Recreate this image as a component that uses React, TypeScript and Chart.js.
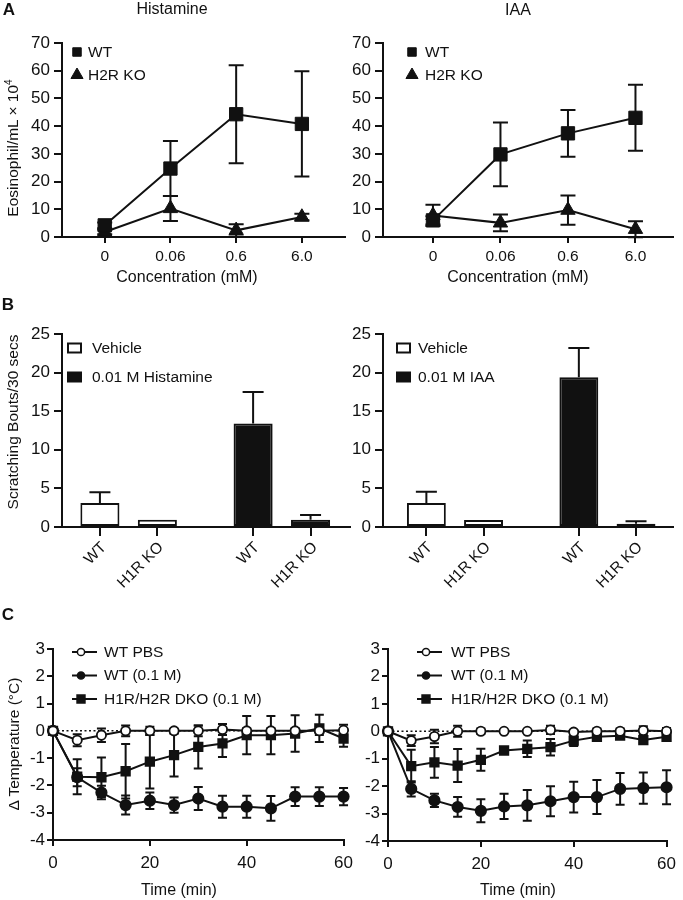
import React, { useEffect, useRef } from 'react';
import { Chart, registerables } from 'chart.js';

Chart.register(...registerables);

const FONT = "'Liberation Sans', Arial, Helvetica, sans-serif";
const INK = '#111111';
const TICK_SIZE = 15.5;
const Y_TICK_SIZE = 17;
const TITLE_SIZE = 16;
const LEGEND_SIZE = 15.5;

// ---------- Panel A: eosinophil counts ----------
const concLabels = ['0', '0.06', '0.6', '6.0'];
const eosSeries = ['WT', 'H2R KO'];
const histamineWT = [4.2, 24.7, 44.3, 40.8];
const histamineWTErr = [1.0, 9.9, 17.7, 19.0];
const histamineKO = [1.8, 10.3, 2.4, 7.2];
const histamineKOErr = [0.8, 4.5, 2.2, 1.2];
const iaaWT = [6.0, 29.8, 37.4, 43.0];
const iaaWTErr = [1.5, 11.5, 8.4, 11.9];
const iaaKO = [7.8, 5.1, 9.7, 2.8];
const iaaKOErr = [3.8, 3.0, 5.3, 2.9];

// ---------- Panel B: scratching bouts ----------
const genotypes = ['WT', 'H1R KO'];
const histTreatments = ['Vehicle', '0.01 M Histamine'];
const iaaTreatments = ['Vehicle', '0.01 M IAA'];
const scratchHistWT = [3.1, 13.4];
const scratchHistWTErr = [1.4, 4.1];
const scratchHistKO = [0.95, 0.95];
const scratchHistKOErr = [0, 0.6];
const scratchIaaWT = [3.1, 19.4];
const scratchIaaWTErr = [1.45, 3.8];
const scratchIaaKO = [0.9, 0.43];
const scratchIaaKOErr = [0, 0.31];

// ---------- Panel C: temperature ----------
const timeMin = [0, 5, 10, 15, 20, 25, 30, 35, 40, 45, 50, 55, 60];
const tempSeries = ['WT PBS', 'WT (0.1 M)', 'H1R/H2R DKO (0.1 M)'];
const histPBS = [0, -0.34, -0.16, 0, 0, 0, 0, 0.05, 0, 0, 0, 0, 0.02];
const histPBSErr = [0, 0.22, 0.25, 0.2, 0.15, 0.08, 0.2, 0.2, 0.1, 0.1, 0.1, 0.15, 0.2];
const histWT = [0, -1.7, -2.26, -2.72, -2.56, -2.72, -2.48, -2.78, -2.78, -2.84, -2.41, -2.41, -2.41];
const histWTErr = [0, 0.33, 0.25, 0.35, 0.3, 0.28, 0.42, 0.4, 0.4, 0.45, 0.34, 0.34, 0.32];
const histDKO = [0, -1.68, -1.7, -1.48, -1.13, -0.89, -0.59, -0.46, -0.16, -0.16, -0.1, 0.09, -0.28];
const histDKOErr = [0, 0.64, 0.72, 1.0, 0.98, 0.78, 0.79, 0.5, 0.7, 0.7, 0.67, 0.5, 0.3];
const iaaPBS = [0, -0.34, -0.19, 0, 0, 0, 0, 0.05, -0.03, 0, 0, 0.03, 0];
const iaaPBSErr = [0, 0.2, 0.25, 0.2, 0.1, 0.05, 0.05, 0.15, 0.08, 0.1, 0.1, 0.15, 0.12];
const iaaTempWT = [0, -2.1, -2.52, -2.76, -2.9, -2.74, -2.7, -2.55, -2.4, -2.4, -2.1, -2.07, -2.04];
const iaaTempWTErr = [0, 0.28, 0.24, 0.36, 0.42, 0.46, 0.56, 0.55, 0.56, 0.62, 0.58, 0.57, 0.62];
const iaaDKO = [0, -1.27, -1.13, -1.25, -1.04, -0.7, -0.64, -0.58, -0.34, -0.2, -0.16, -0.32, -0.2];
const iaaDKOErr = [0, 0.6, 0.56, 0.6, 0.4, 0.1, 0.3, 0.3, 0.2, 0.1, 0.1, 0.1, 0.15];

// ---------- styles ----------
const eosMarkers = ['rect', 'triangle'];
const eosRadius = [9.4, 8.3];
const tempMarkers = ['circle', 'circle', 'rect'];
const tempFills = ['#ffffff', INK, INK];
const tempRadius = [4.6, 5.2, 6.0];
const treatmentFills = ['#ffffff', INK];

function drawMarker(ctx: CanvasRenderingContext2D, style: string, x: number, y: number, r: number, fill: string, lw: number) {
  ctx.beginPath();
  if (style === 'rect') {
    const s = r * Math.SQRT1_2;
    ctx.rect(x - s, y - s, 2 * s, 2 * s);
  } else if (style === 'triangle') {
    ctx.moveTo(x, y - r);
    ctx.lineTo(x + r * 0.866, y + r / 2);
    ctx.lineTo(x - r * 0.866, y + r / 2);
    ctx.closePath();
  } else {
    ctx.arc(x, y, r, 0, Math.PI * 2);
  }
  ctx.fillStyle = fill;
  ctx.fill();
  ctx.lineWidth = lw;
  ctx.strokeStyle = INK;
  ctx.stroke();
}

const errorBarPlugin = {
  id: 'errorBars',
  beforeDatasetsDraw(chart: any) {
    const { ctx } = chart;
    const yS = chart.scales.y;
    chart.data.datasets.forEach((ds: any, di: number) => {
      if (!ds.errorBars) return;
      const meta = chart.getDatasetMeta(di);
      const half = (ds.errorCap ?? 8) / 2;
      ctx.save();
      ctx.strokeStyle = INK;
      ctx.lineWidth = ds.errorLineWidth ?? 2;
      meta.data.forEach((el: any, i: number) => {
        const e = ds.errorBars[i];
        if (!e) return;
        const raw = ds.data[i];
        const v = typeof raw === 'number' ? raw : raw.y;
        const x = el.x;
        const yHi = yS.getPixelForValue(v + e);
        const yLo = yS.getPixelForValue(ds.errorUpOnly ? v : v - e);
        ctx.beginPath();
        ctx.moveTo(x, yLo);
        ctx.lineTo(x, yHi);
        ctx.moveTo(x - half, yHi);
        ctx.lineTo(x + half, yHi);
        if (!ds.errorUpOnly) {
          ctx.moveTo(x - half, yLo);
          ctx.lineTo(x + half, yLo);
        }
        ctx.stroke();
      });
      ctx.restore();
    });
  },
};

const zeroLinePlugin = {
  id: 'zeroLine',
  beforeDatasetsDraw(chart: any) {
    const { ctx, chartArea, scales } = chart;
    const y = scales.y.getPixelForValue(0);
    ctx.save();
    ctx.strokeStyle = INK;
    ctx.lineWidth = 1.5;
    ctx.setLineDash([2, 2.5]);
    ctx.beginPath();
    ctx.moveTo(chartArea.left, y);
    ctx.lineTo(chartArea.right, y);
    ctx.stroke();
    ctx.restore();
  },
};

type LegendItem = { text: string; style: string; fill: string; radius: number };
type LegendSpec = { kind: 'marker' | 'line' | 'box'; dx: number; dy: number; gap: number; textDx: number; items: LegendItem[] };

function legendPlugin(o: LegendSpec) {
  return {
    id: 'panelLegend',
    afterDatasetsDraw(chart: any) {
      const { ctx, chartArea } = chart;
      ctx.save();
      ctx.font = `${LEGEND_SIZE}px ${FONT}`;
      ctx.textBaseline = 'middle';
      ctx.textAlign = 'left';
      o.items.forEach((it, i) => {
        const x = chartArea.left + o.dx;
        const y = chartArea.top + o.dy + i * o.gap;
        if (o.kind === 'box') {
          ctx.fillStyle = it.fill;
          ctx.fillRect(x, y - 4.5, 13, 9);
          ctx.lineWidth = 2;
          ctx.strokeStyle = INK;
          ctx.strokeRect(x, y - 4.5, 13, 9);
        } else if (o.kind === 'line') {
          ctx.strokeStyle = INK;
          ctx.lineWidth = 2;
          ctx.beginPath();
          ctx.moveTo(x, y);
          ctx.lineTo(x + 25, y);
          ctx.stroke();
          drawMarker(ctx, it.style, x + 9, y, it.radius, it.fill, 1.5);
        } else {
          drawMarker(ctx, it.style, x, y, it.radius, it.fill, 1);
        }
        ctx.fillStyle = INK;
        ctx.fillText(it.text, x + o.textDx, y + 0.5);
      });
      ctx.restore();
    },
  };
}

function barLabelPlugin() {
  return {
    id: 'barLabels',
    afterDraw(chart: any) {
      const { ctx, chartArea } = chart;
      ctx.save();
      ctx.font = `${TICK_SIZE}px ${FONT}`;
      ctx.fillStyle = INK;
      ctx.strokeStyle = INK;
      ctx.lineWidth = 2;
      chart.data.datasets.forEach((ds: any, di: number) => {
        const meta = chart.getDatasetMeta(di);
        meta.data.forEach((bar: any) => {
          const x = Math.round(bar.x);
          ctx.beginPath();
          ctx.moveTo(x, chartArea.bottom);
          ctx.lineTo(x, chartArea.bottom + 9);
          ctx.stroke();
          ctx.save();
          ctx.translate(x + 4, chartArea.bottom + 18);
          ctx.rotate(-Math.PI / 4);
          ctx.textAlign = 'right';
          ctx.textBaseline = 'middle';
          ctx.fillText(ds.label, 0, 0);
          ctx.restore();
        });
      });
      ctx.restore();
    },
  };
}

function gridOpts(tick: number) {
  return { drawOnChartArea: false, drawTicks: true, tickLength: tick, tickWidth: 2, tickColor: INK, color: INK, lineWidth: 2, offset: false };
}

function yScale(o: { min: number; max: number; step: number; width: number; tick: number; pad: number }) {
  return {
    type: 'linear',
    min: o.min,
    max: o.max,
    ticks: { stepSize: o.step, color: INK, font: { family: FONT, size: Y_TICK_SIZE }, padding: o.pad },
    grid: gridOpts(o.tick),
    border: { display: true, color: INK, width: 2 },
    afterFit: (s: any) => { s.width = o.width; },
  };
}

function baseOptions(padding: any, scales: any) {
  return {
    responsive: false,
    animation: false,
    devicePixelRatio: 1,
    events: [],
    layout: { padding },
    plugins: { legend: { display: false }, tooltip: { enabled: false }, title: { display: false } },
    scales,
  };
}

function eosConfig(wt: number[], wtErr: number[], ko: number[], koErr: number[], xMin: number, xMax: number, yWidth: number, padRight: number, legend: { dx: number; textDx: number }) {
  const series = [wt, ko];
  const errs = [wtErr, koErr];
  return {
    type: 'line',
    data: {
      datasets: eosSeries.map((name, si) => ({
        label: name,
        data: concLabels.map((_, i) => ({ x: i, y: series[si][i] })),
        errorBars: errs[si],
        errorCap: 15,
        borderColor: INK,
        borderWidth: 2,
        pointStyle: eosMarkers[si],
        pointRadius: eosRadius[si],
        pointBackgroundColor: INK,
        pointBorderColor: INK,
        pointBorderWidth: 1,
        tension: 0,
        clip: false,
      })),
    },
    options: baseOptions({ left: 0, top: 43, right: padRight, bottom: 0 }, {
      x: {
        type: 'linear',
        min: xMin,
        max: xMax,
        offset: false,
        afterBuildTicks: (s: any) => { s.ticks = concLabels.map((_, i) => ({ value: i })); },
        ticks: { color: INK, font: { family: FONT, size: TICK_SIZE }, padding: 4, autoSkip: false, maxRotation: 0, callback: (v: number) => concLabels[v] ?? '' },
        grid: gridOpts(6),
        border: { display: true, color: INK, width: 2 },
        afterFit: (s: any) => { s.height = 53; },
      },
      y: yScale({ min: 0, max: 70, step: 10, width: yWidth, tick: 8, pad: 4 }),
    }),
    plugins: [
      errorBarPlugin,
      legendPlugin({
        kind: 'marker', dx: legend.dx, dy: 9, gap: 23, textDx: legend.textDx,
        items: eosSeries.map((name, i) => ({ text: name, style: eosMarkers[i], fill: INK, radius: i === 0 ? 6 : 7 })),
      }),
    ],
  };
}

function scratchConfig(treatments: string[], wt: number[], wtErr: number[], ko: number[], koErr: number[], xMin: number, xMax: number, yWidth: number, padRight: number, legend: { dx: number; textDx: number }) {
  const series = [wt, ko];
  const errs = [wtErr, koErr];
  return {
    type: 'bar',
    data: {
      datasets: genotypes.map((name, si) => ({
        label: name,
        data: treatments.map((_, i) => ({ x: i, y: series[si][i] })),
        errorBars: errs[si],
        errorUpOnly: true,
        errorCap: 21,
        backgroundColor: treatmentFills,
        borderColor: INK,
        borderWidth: 2,
        borderSkipped: false,
        categoryPercentage: 0.75,
        barPercentage: 0.68,
      })),
    },
    options: baseOptions({ left: 0, top: 44, right: padRight, bottom: 0 }, {
      x: {
        type: 'linear',
        min: xMin,
        max: xMax,
        offset: false,
        afterBuildTicks: (s: any) => { s.ticks = treatments.map((_, i) => ({ value: i })); },
        ticks: { display: false },
        grid: { display: false, offset: false },
        border: { display: true, color: INK, width: 2 },
        afterFit: (s: any) => { s.height = 73; },
      },
      y: yScale({ min: 0, max: 25, step: 5, width: yWidth, tick: 8, pad: 4 }),
    }),
    plugins: [
      errorBarPlugin,
      barLabelPlugin(),
      legendPlugin({
        kind: 'box', dx: legend.dx, dy: 14, gap: 29, textDx: legend.textDx,
        items: treatments.map((name, i) => ({ text: name, style: 'rect', fill: treatmentFills[i], radius: 0 })),
      }),
    ],
  };
}

function tempConfig(pbs: number[], pbsErr: number[], wt: number[], wtErr: number[], dko: number[], dkoErr: number[], yWidth: number, padRight: number, xHeight: number, legend: { dx: number; textDx: number }) {
  const series = [pbs, wt, dko];
  const errs = [pbsErr, wtErr, dkoErr];
  return {
    type: 'line',
    data: {
      datasets: tempSeries.map((name, si) => ({
        label: name,
        data: timeMin.map((t, i) => ({ x: t, y: series[si][i] })),
        errorBars: errs[si],
        errorCap: 9,
        borderColor: INK,
        borderWidth: 2,
        pointStyle: tempMarkers[si],
        pointRadius: tempRadius[si],
        pointBackgroundColor: tempFills[si],
        pointBorderColor: INK,
        pointBorderWidth: 1.8,
        tension: 0,
        clip: false,
      })),
    },
    options: baseOptions({ left: 0, top: 49, right: padRight, bottom: 0 }, {
      x: {
        type: 'linear',
        min: 0,
        max: 60,
        ticks: { stepSize: 20, color: INK, font: { family: FONT, size: Y_TICK_SIZE }, padding: 7, maxRotation: 0 },
        grid: gridOpts(6),
        border: { display: true, color: INK, width: 2 },
        afterFit: (s: any) => { s.height = xHeight; },
      },
      y: yScale({ min: -4, max: 3, step: 1, width: yWidth, tick: 6, pad: 2 }),
    }),
    plugins: [
      zeroLinePlugin,
      errorBarPlugin,
      legendPlugin({
        kind: 'line', dx: legend.dx, dy: 3, gap: 23.5, textDx: legend.textDx,
        items: tempSeries.map((name, i) => ({ text: name, style: tempMarkers[i], fill: tempFills[i], radius: i === 2 ? 5.6 : 3.6 })),
      }),
    ],
  };
}

type Spec = { key: string; left: number; top: number; width: number; height: number; build: () => any };

const specs: Spec[] = [
  { key: 'a1', left: 0, top: 0, width: 355, height: 290, build: () => eosConfig(histamineWT, histamineWTErr, histamineKO, histamineKOErr, -0.65, 3.65, 62, 2, { dx: 15, textDx: 11 }) },
  { key: 'a2', left: 345, top: 0, width: 338, height: 290, build: () => eosConfig(iaaWT, iaaWTErr, iaaKO, iaaKOErr, -0.74, 3.55, 38, 10, { dx: 29, textDx: 13 }) },
  { key: 'b1', left: 0, top: 290, width: 355, height: 310, build: () => scratchConfig(histTreatments, scratchHistWT, scratchHistWTErr, scratchHistKO, scratchHistKOErr, -0.435, 1.445, 62, 5, { dx: 6, textDx: 24 }) },
  { key: 'b2', left: 345, top: 290, width: 338, height: 310, build: () => scratchConfig(iaaTreatments, scratchIaaWT, scratchIaaWTErr, scratchIaaKO, scratchIaaKOErr, -0.472, 1.43, 38, 10, { dx: 14, textDx: 21 }) },
  { key: 'c1', left: 0, top: 600, width: 360, height: 300, build: () => tempConfig(histPBS, histPBSErr, histWT, histWTErr, histDKO, histDKOErr, 53, 14, 60, { dx: 19, textDx: 32 }) },
  { key: 'c2', left: 345, top: 600, width: 338, height: 300, build: () => tempConfig(iaaPBS, iaaPBSErr, iaaTempWT, iaaTempWTErr, iaaDKO, iaaDKOErr, 43, 9, 59, { dx: 29, textDx: 34 }) },
];

function ChartCanvas({ spec }: { spec: Spec }) {
  const ref = useRef<HTMLCanvasElement | null>(null);
  useEffect(() => {
    if (!ref.current) return;
    const chart = new Chart(ref.current, spec.build());
    return () => chart.destroy();
  }, [spec]);
  return (
    <canvas
      ref={ref}
      width={spec.width}
      height={spec.height}
      style={{ position: 'absolute', left: spec.left, top: spec.top, width: spec.width, height: spec.height }}
    />
  );
}

function Text({ x, y, size = TITLE_SIZE, bold = false, rotate = false, children }: any) {
  return (
    <div
      style={{
        position: 'absolute',
        left: x,
        top: y,
        transform: `translate(-50%, -50%)${rotate ? ' rotate(-90deg)' : ''}`,
        fontFamily: FONT,
        fontSize: size,
        fontWeight: bold ? 700 : 400,
        lineHeight: 1,
        whiteSpace: 'nowrap',
        color: INK,
      }}
    >
      {children}
    </div>
  );
}

export default function App() {
  return (
    <div style={{ position: 'absolute', left: 0, top: 0, width: 683, height: 900, background: '#fff', overflow: 'hidden' }}>
      {specs.map((s) => <ChartCanvas key={s.key} spec={s} />)}
      <Text x={9} y={9} size={17} bold>A</Text>
      <Text x={8} y={304} size={17} bold>B</Text>
      <Text x={8} y={614} size={17} bold>C</Text>
      <Text x={172} y={9}>Histamine</Text>
      <Text x={518} y={10}>IAA</Text>
      <Text x={13} y={148} size={15.5} rotate>
        Eosinophil/mL × 10<sup style={{ fontSize: 10, verticalAlign: 'super', lineHeight: 0 }}>4</sup>
      </Text>
      <Text x={187} y={277}>Concentration (mM)</Text>
      <Text x={518} y={277}>Concentration (mM)</Text>
      <Text x={13} y={422} size={15.5} rotate>Scratching Bouts/30 secs</Text>
      <Text x={14} y={744} size={15.5} rotate>Δ Temperature (°C)</Text>
      <Text x={179} y={890}>Time (min)</Text>
      <Text x={518} y={890}>Time (min)</Text>
    </div>
  );
}
